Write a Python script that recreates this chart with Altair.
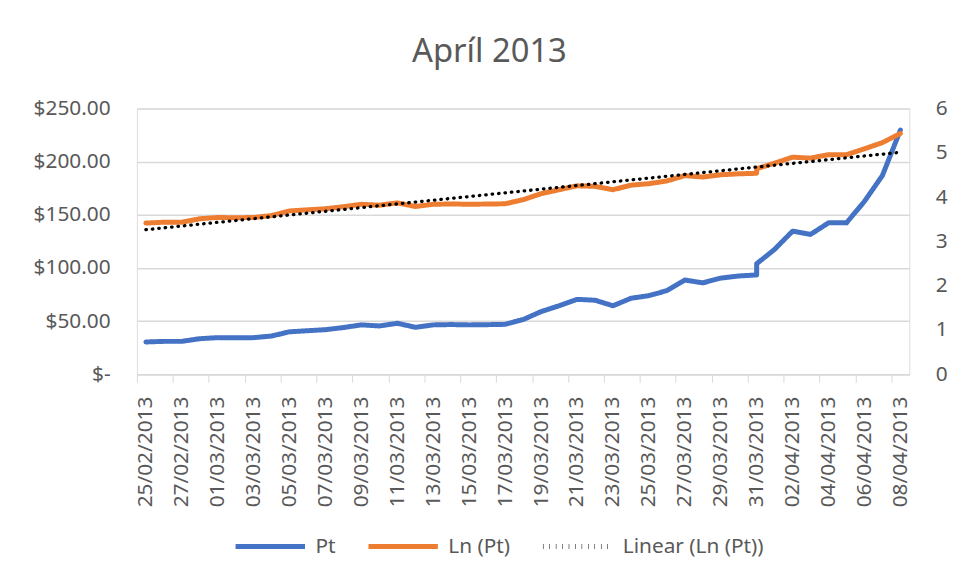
import altair as alt
import pandas as pd

dates = ["2013-02-25", "2013-02-26", "2013-02-27", "2013-02-28",
         "2013-03-01", "2013-03-02", "2013-03-03", "2013-03-04", "2013-03-05",
         "2013-03-06", "2013-03-07", "2013-03-08", "2013-03-09", "2013-03-10",
         "2013-03-11", "2013-03-12", "2013-03-13", "2013-03-14", "2013-03-15",
         "2013-03-16", "2013-03-17", "2013-03-18", "2013-03-19", "2013-03-20",
         "2013-03-21", "2013-03-22", "2013-03-23", "2013-03-24", "2013-03-25",
         "2013-03-26", "2013-03-27", "2013-03-28", "2013-03-29", "2013-03-30",
         "2013-03-31", "2013-03-31", "2013-04-01", "2013-04-02", "2013-04-03",
         "2013-04-04", "2013-04-05", "2013-04-06", "2013-04-07", "2013-04-08"]

pt = [30.4, 31.0, 31.0, 33.5, 34.5, 34.3, 34.5, 36.0, 40.0, 41.0, 42.0, 44.0,
      46.5, 45.5, 48.0, 44.2, 46.5, 46.8, 46.5, 46.7, 47.0, 51.5, 59.0, 64.5,
      70.5, 69.7, 64.5, 71.5, 74.0, 78.7, 88.7, 86.0, 90.5, 92.5, 93.5, 104.0,
      117.6, 134.7, 131.6, 142.5, 142.5, 162.7, 187.0, 229.7]

ln_pt = [3.414, 3.434, 3.434, 3.512, 3.541, 3.535, 3.541, 3.584, 3.689, 3.714,
         3.738, 3.784, 3.839, 3.818, 3.871, 3.789, 3.839, 3.846, 3.839, 3.844,
         3.850, 3.942, 4.078, 4.167, 4.256, 4.244, 4.167, 4.270, 4.304, 4.366,
         4.485, 4.454, 4.505, 4.527, 4.538, 4.644, 4.767, 4.903, 4.880, 4.959,
         4.959, 5.092, 5.231, 5.437]

series_names = ["Pt", "Ln (Pt)", "Linear (Ln (Pt))"]
series_colors = ["#4472C4", "#ED7D31", "#000000"]

tick_dates = ["2013-02-25", "2013-02-27", "2013-03-01", "2013-03-03", "2013-03-05",
              "2013-03-07", "2013-03-09", "2013-03-11", "2013-03-13", "2013-03-15",
              "2013-03-17", "2013-03-19", "2013-03-21", "2013-03-23", "2013-03-25",
              "2013-03-27", "2013-03-29", "2013-03-31", "2013-04-02", "2013-04-04",
              "2013-04-06", "2013-04-08"]

df_pt = pd.DataFrame({"date": dates, "v": pt, "i": list(range(len(dates))),
                      "series": "Pt"})
df_ln = pd.DataFrame({"date": dates, "v": ln_pt, "i": list(range(len(dates))),
                      "series": "Ln (Pt)"})

FONT = "Noto Sans"
GREY = "#595959"
GRID = "#d9d9d9"
HALF = 9.07


def dt(s, h=0):
    y, m, d = (int(p) for p in s.split("-"))
    return alt.DateTime(year=y, month=m, date=d, hours=h, utc=True)


x_enc = alt.X(
    "date:T",
    scale=alt.Scale(type="utc", domain=[dt("2013-02-24", 12), dt("2013-04-08", 12)]),
    axis=alt.Axis(
        title=None,
        values=[dt(s) for s in tick_dates],
        labelExpr="utcFormat(datum.value, '%d/%m/%Y')",
        labelAngle=270,
        labelFont=FONT, labelFontSize=21, labelColor=GREY,
        labelPadding=14,
        tickOffset=-HALF, labelOffset=HALF,
        tickColor=GRID, tickSize=8, domainColor=GRID, domainWidth=1.5,
        grid=False,
    ),
)

color = alt.Color("series:N", scale=alt.Scale(domain=series_names, range=series_colors),
                  legend=alt.Legend(title=None, orient="none", direction="horizontal",
                                    legendX=97, legendY=404,
                                    symbolType="stroke", symbolSize=4900,
                                    symbolStrokeWidth=5,
                                    labelFont=FONT, labelFontSize=21, labelColor=GREY,
                                    columnPadding=22, labelOffset=8))
dash = alt.StrokeDash("series:N",
                      scale=alt.Scale(domain=series_names,
                                      range=[[1, 0], [1, 0], [0.5, 6]]),
                      legend=None)

blue = alt.Chart(df_pt).mark_line(strokeWidth=5, strokeCap="round", strokeJoin="round").encode(
    x=x_enc,
    y=alt.Y("v:Q", scale=alt.Scale(domain=[0, 250]),
            axis=alt.Axis(title=None, values=[0, 50, 100, 150, 200, 250],
                          labelExpr="datum.value == 0 ? '$-\u00a0\u00a0' : '$' + format(datum.value, ',.2f')",
                          labelFont=FONT, labelFontSize=21, labelColor=GREY,
                          labelPadding=27, ticks=False, domain=False,
                          gridColor=GRID, gridWidth=1.5)),
    color=color,
    strokeDash=dash,
    order="i:Q",
)

y_right = alt.Y("v:Q", scale=alt.Scale(domain=[0, 6]),
                axis=alt.Axis(title=None, orient="right", values=[0, 1, 2, 3, 4, 5, 6],
                              labelFont=FONT, labelFontSize=21, labelColor=GREY,
                              labelPadding=26, ticks=False, domain=False, grid=False))

orange = alt.Chart(df_ln).mark_line(strokeWidth=5, strokeCap="round", strokeJoin="round").encode(
    x=x_enc, y=y_right, color=color, strokeDash=dash, order="i:Q")

trend = alt.Chart(df_ln).transform_regression("date", "v", method="linear").transform_calculate(
    series="'Linear (Ln (Pt))'"
).mark_line(strokeWidth=3.3, strokeCap="round").encode(
    x=x_enc, y=y_right, color=color, strokeDash=dash)

right = alt.layer(orange, trend)

chart = alt.layer(blue, right).resolve_scale(y="independent").properties(
    width=779, height=268,
    autosize=alt.AutoSizeParams(type="none"),
    padding={"left": 130, "top": 99, "right": 43, "bottom": 203},
    title=alt.TitleParams("Apríl 2013", font=FONT, fontSize=33, fontWeight="normal",
                          color=GREY, anchor="middle", dx=-34, offset=29),
).configure_view(stroke=None).configure(background="white")

chart.save("out.html", embed_options={"renderer": "svg", "actions": False})
